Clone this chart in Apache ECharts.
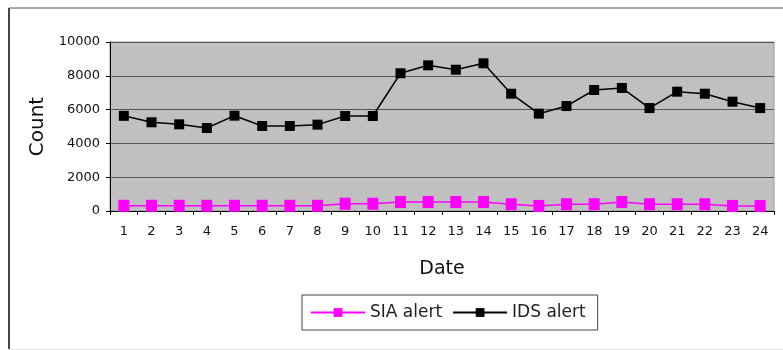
<!DOCTYPE html>
<html>
<head>
<meta charset="utf-8">
<script src="https://cdn.jsdelivr.net/npm/echarts@6/dist/echarts.min.js"></script>
<style>
  html, body { margin: 0; padding: 0; background: #fff; }
  #chart { width: 783px; height: 350px; }
</style>
</head>
<body>
<div id="chart"></div>
<script>
const dates = ['1', '2', '3', '4', '5', '6', '7', '8', '9', '10', '11', '12',
  '13', '14', '15', '16', '17', '18', '19', '20', '21', '22', '23', '24']
const siaAlert = [310, 310, 310, 310, 310, 310, 310, 310, 430, 430, 530, 530,
  530, 530, 400, 300, 400, 400, 530, 400, 400, 400, 300, 300]
const idsAlert = [5630, 5250, 5130, 4910, 5640, 5030, 5030, 5110, 5620, 5620, 8150, 8620,
  8360, 8740, 6940, 5760, 6210, 7160, 7280, 6090, 7060, 6940, 6470, 6090]

const chart = echarts.init(document.getElementById('chart'))

const font = '"DejaVu Sans", sans-serif'

const option = {
  backgroundColor: '#fff',
  animation: false,
  textStyle: { fontFamily: font },
  graphic: [
    { type: 'line', shape: { x1: 9, y1: 8, x2: 9, y2: 349 }, style: { stroke: '#444', lineWidth: 2 } },
    { type: 'line', shape: { x1: 9, y1: 8, x2: 783, y2: 8 }, style: { stroke: '#555', lineWidth: 1 } },
    { type: 'line', shape: { x1: 9, y1: 349.5, x2: 783, y2: 349.5 }, style: { stroke: '#e6e6e6', lineWidth: 1 } }
  ],
  grid: {
    left: 110,
    right: 9,
    top: 42,
    bottom: 139,
    show: true,
    backgroundColor: '#c0c0c0',
    borderColor: '#999',
    borderWidth: 1
  },
  legend: {
    data: ['SIA alert', 'IDS alert'],
    left: 302,
    top: 295,
    padding: [9, 12, 9, 8],
    borderColor: '#444',
    borderWidth: 1,
    itemWidth: 54,
    itemHeight: 11,
    itemGap: 10,
    textStyle: { color: '#222', fontSize: 17, fontFamily: font }
  },
  xAxis: {
    type: 'category',
    data: dates,
    boundaryGap: true,
    name: 'Date',
    nameLocation: 'middle',
    nameGap: 49,
    nameTextStyle: { color: '#111', fontSize: 19 },
    axisLine: { lineStyle: { color: '#000', width: 1 } },
    axisTick: { show: true, length: 4, lineStyle: { color: '#000' } },
    axisLabel: { color: '#111', fontSize: 13, margin: 14 },
    splitLine: { show: false }
  },
  yAxis: {
    type: 'value',
    min: 0,
    max: 10000,
    interval: 2000,
    name: 'Count',
    nameLocation: 'middle',
    nameRotate: 90,
    nameGap: 47,
    nameTextStyle: { color: '#111', fontSize: 20 },
    axisLine: { show: true, lineStyle: { color: '#000', width: 1 } },
    axisTick: { show: true, length: 4, lineStyle: { color: '#000' } },
    axisLabel: { color: '#111', fontSize: 13, margin: 10, formatter: v => String(v) },
    splitLine: { show: true, lineStyle: { color: '#555', width: 1 } }
  },
  series: [
    {
      name: 'SIA alert',
      type: 'line',
      data: siaAlert,
      symbol: 'rect',
      symbolSize: [11, 12],
      color: '#ff00ff',
      itemStyle: { color: '#ff00ff' },
      lineStyle: { color: '#ff00ff', width: 1.5 }
    },
    {
      name: 'IDS alert',
      type: 'line',
      data: idsAlert,
      symbol: 'rect',
      symbolSize: 10,
      color: '#000',
      itemStyle: { color: '#000' },
      lineStyle: { color: '#000', width: 1.5 }
    }
  ]
}

chart.setOption(option)
</script>
</body>
</html>
